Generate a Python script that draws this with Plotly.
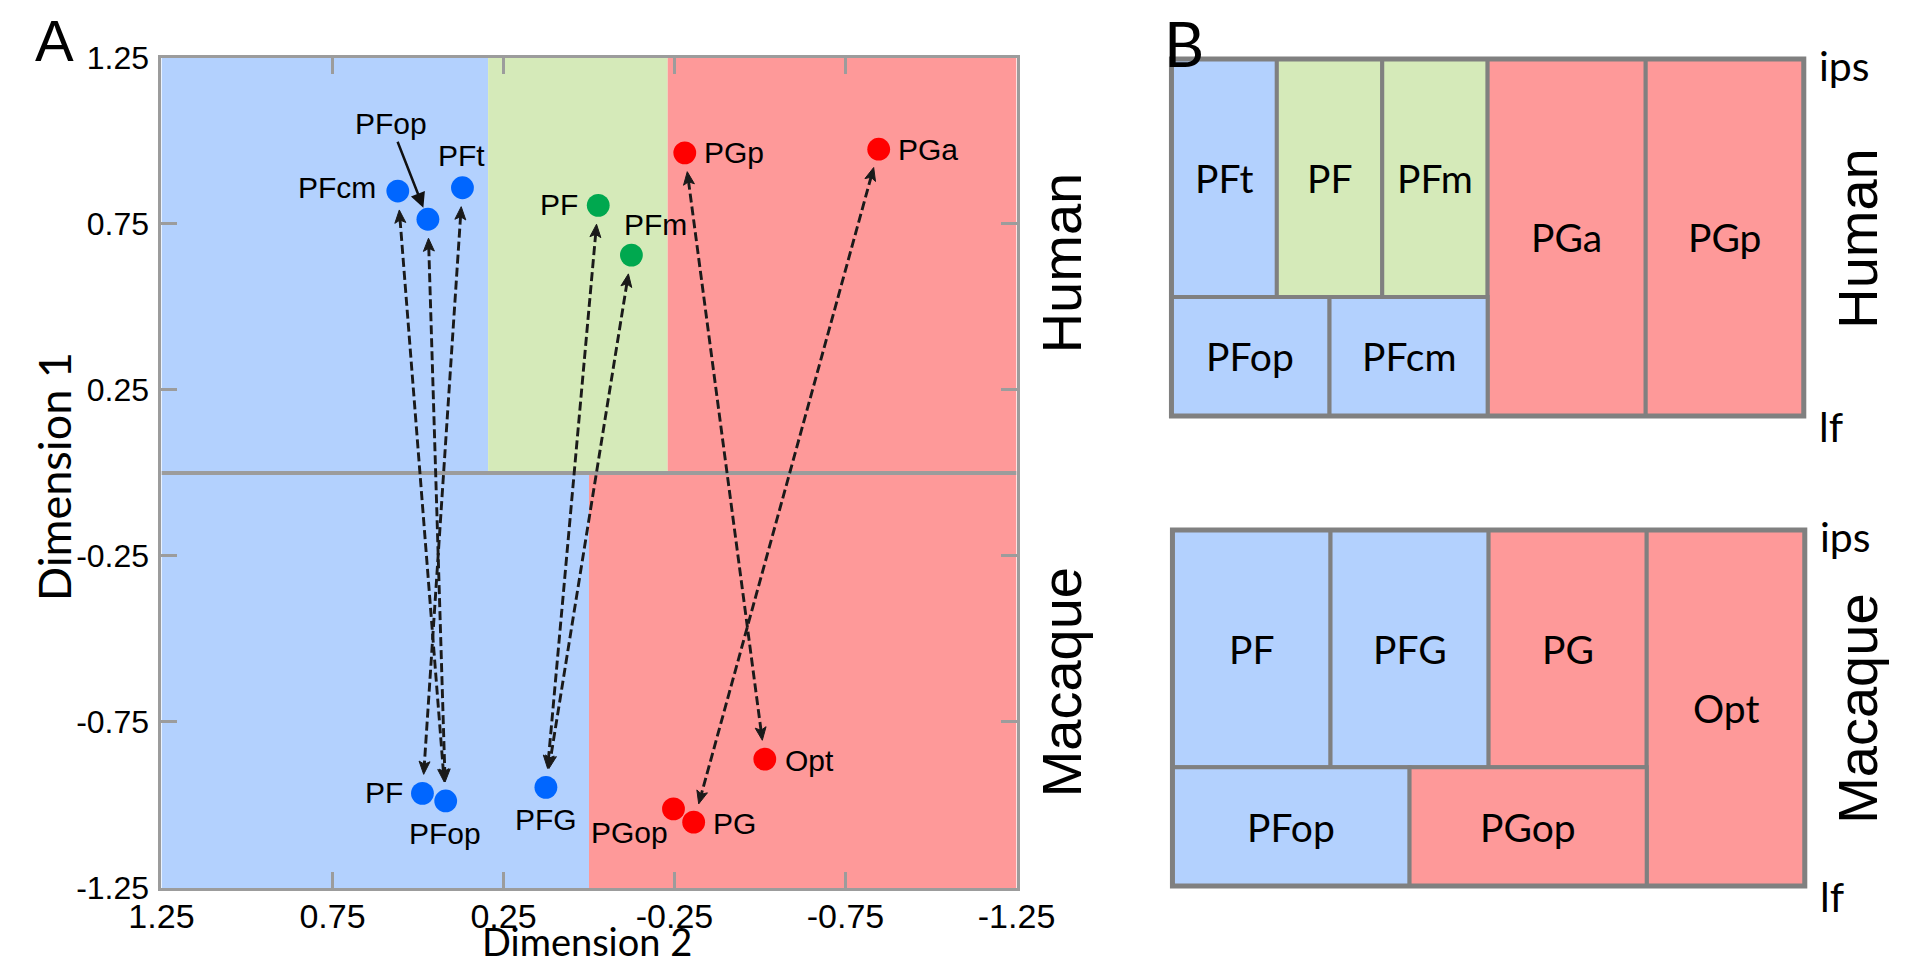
import numpy as np
import plotly.graph_objects as go

# ---------------------------------------------------------------- data (panel A)
human_names = ["PFcm", "PFop", "PFt", "PF", "PFm", "PGp", "PGa"]
human_dim2 = [0.559, 0.471, 0.370, -0.027, -0.124, -0.280, -0.847]
human_dim1 = [0.849, 0.764, 0.859, 0.806, 0.656, 0.964, 0.975]
human_group = ["blue", "blue", "blue", "green", "green", "red", "red"]

macaque_names = ["PF", "PFop", "PFG", "PGop", "PG", "Opt"]
macaque_dim2 = [0.487, 0.419, 0.126, -0.247, -0.306, -0.514]
macaque_dim1 = [-0.965, -0.988, -0.947, -1.012, -1.052, -0.862]
macaque_group = ["blue", "blue", "blue", "red", "red", "red"]

# correspondences human <-> macaque
link_human = ["PFcm", "PFop", "PFt", "PF", "PFm", "PGp", "PGa"]
link_macaque = ["PFop", "PFop", "PF", "PFG", "PFG", "Opt", "PG"]

# background bands along Dimension 2
human_band_edges = [1.25, 0.295, -0.23, -1.25]
human_band_group = ["blue", "green", "red"]
macaque_band_edges = [1.25, 0.0, -1.25]
macaque_band_group = ["blue", "red"]

tick_vals = [1.25, 0.75, 0.25, -0.25, -0.75, -1.25]
tick_text = ["1.25", "0.75", "0.25", "-0.25", "-0.75", "-1.25"]

# ---------------------------------------------------------------- data (panel B)
hb_names = ["PFt", "PF", "PFm", "PGa", "PGp", "PFop", "PFcm"]
hb_col0 = [0, 2, 4, 6, 9, 0, 3]
hb_col1 = [2, 4, 6, 9, 12, 3, 6]
hb_row0 = [1, 1, 1, 0, 0, 0, 0]
hb_row1 = [3, 3, 3, 3, 3, 1, 1]
hb_group = ["blue", "green", "green", "red", "red", "blue", "blue"]

mb_names = ["PF", "PFG", "PG", "Opt", "PFop", "PGop"]
mb_col0 = [0, 3, 6, 9, 0, 4.5]
mb_col1 = [3, 6, 9, 12, 4.5, 9]
mb_row0 = [1, 1, 1, 0, 0, 0]
mb_row1 = [3, 3, 3, 3, 1, 1]
mb_group = ["blue", "blue", "red", "red", "blue", "red"]

# ---------------------------------------------------------------- styles / layout
FIG_W, FIG_H = 1920, 974
ARIAL = "Liberation Sans, Arial, sans-serif"
CALI = "Lato, Carlito, Calibri, sans-serif"
BG = {"blue": "#b3d1fe", "green": "#d5eab9", "red": "#fe9999"}
DOT = {"blue": "#0066ff", "green": "#00a84f", "red": "#ff0000"}
AX_GREY = "#9c9c9c"
BOX_GREY = "#808080"

# the photographed page appears slightly reduced; map target picture pixels -> page pixels
KX, OX, KY, OY = 0.965, 30.6, 0.963, 17.1
SC = 1 / 0.964


def px(sx):
    return (sx - OX) / KX


def py(sy):
    return (sy - OY) / KY


A_X0, A_X1, A_Y0, A_Y1 = px(159.4), px(1016.7), py(57.0), py(887.0)
HB = (px(1172.0), px(1806.0), py(58.0), py(415.0))
MB = (px(1173.0), px(1807.0), py(529.0), py(885.0))
PAD_C, PAD_R = 0.1, 0.05


def dom_x(a, b):
    return [a / FIG_W, b / FIG_W]


def dom_y(top, bottom):
    return [1 - bottom / FIG_H, 1 - top / FIG_H]


def padded_domains(box, ncol=12, nrow=3):
    x0, x1, y0, y1 = box
    cx = (x1 - x0) / ncol
    cy = (y1 - y0) / nrow
    return (dom_x(x0 - PAD_C * cx, x1 + PAD_C * cx),
            dom_y(y0 - PAD_R * cy, y1 + PAD_R * cy))


def paper(x_page, y_page):
    return x_page / FIG_W, 1 - y_page / FIG_H


fig = go.Figure()

# ---------------------------------------------------------------- panel A backgrounds
shapes = []
for i, g in enumerate(human_band_group):
    shapes.append(dict(type="rect", xref="x", yref="y", layer="below",
                       x0=human_band_edges[i], x1=human_band_edges[i + 1], y0=0, y1=1.25,
                       fillcolor=BG[g], line=dict(width=0)))
for i, g in enumerate(macaque_band_group):
    shapes.append(dict(type="rect", xref="x", yref="y", layer="below",
                       x0=macaque_band_edges[i], x1=macaque_band_edges[i + 1], y0=-1.25, y1=0,
                       fillcolor=BG[g], line=dict(width=0)))
shapes.append(dict(type="line", xref="x", yref="y", layer="below",
                   x0=1.25, x1=-1.25, y0=0, y1=0, line=dict(color=AX_GREY, width=4)))

# ---------------------------------------------------------------- dashed correspondence arrows
kx = (A_X1 - A_X0) / 2.5
ky = (A_Y1 - A_Y0) / 2.5


def to_px(x, y):
    return np.array([(1.25 - x) * kx, (1.25 - y) * ky])


def to_data(p):
    return 1.25 - p[0] / kx, 1.25 - p[1] / ky


hpos = {n: (x, y) for n, x, y in zip(human_names, human_dim2, human_dim1)}
mpos = {n: (x, y) for n, x, y in zip(macaque_names, macaque_dim2, macaque_dim1)}

GAP, HEAD_L, HEAD_W = 19.0 * SC, 13.0 * SC, 11.0 * SC
lx, ly, ax_, ay_ = [], [], [], []
for hn, mn in zip(link_human, link_macaque):
    h = to_px(*hpos[hn])
    m = to_px(*mpos[mn])
    u = (m - h) / np.linalg.norm(m - h)
    th = h + u * GAP
    tm = m - u * GAP
    a = th + u * HEAD_L * 0.7
    b = tm - u * HEAD_L * 0.7
    for p in (a, b):
        dx, dy = to_data(p)
        lx.append(dx)
        ly.append(dy)
    lx.append(None)
    ly.append(None)
    for tip, d in ((th, -u), (tm, u)):
        nrm = np.array([-d[1], d[0]])
        pts = [tip,
               tip - d * HEAD_L + nrm * HEAD_W / 2,
               tip - d * HEAD_L * 0.78,
               tip - d * HEAD_L - nrm * HEAD_W / 2,
               tip]
        for p in pts:
            dx, dy = to_data(p)
            ax_.append(dx)
            ay_.append(dy)
        ax_.append(None)
        ay_.append(None)

fig.add_trace(go.Scatter(x=lx, y=ly, mode="lines", xaxis="x", yaxis="y",
                         line=dict(color="#1a1a1a", width=2.9, dash="9px,4px"),
                         hoverinfo="skip", showlegend=False))
fig.add_trace(go.Scatter(x=ax_, y=ay_, mode="lines", fill="toself", fillcolor="#1a1a1a",
                         line=dict(color="#1a1a1a", width=1), xaxis="x", yaxis="y",
                         hoverinfo="skip", showlegend=False))

# ---------------------------------------------------------------- points
MS = 22 * SC
fig.add_trace(go.Scatter(x=human_dim2, y=human_dim1, mode="markers", text=human_names,
                         marker=dict(size=MS, color=[DOT[g] for g in human_group], line=dict(width=0)),
                         showlegend=False, xaxis="x", yaxis="y"))
fig.add_trace(go.Scatter(x=macaque_dim2, y=macaque_dim1, mode="markers", text=macaque_names,
                         marker=dict(size=MS, color=[DOT[g] for g in macaque_group], line=dict(width=0)),
                         showlegend=False, xaxis="x", yaxis="y"))

# ---------------------------------------------------------------- point labels
LBL = 30
human_lbl = {"PFcm": ("right", -19, 3), "PFt": ("center", -1, 31), "PF": ("right", -18, 1),
             "PFm": ("left", -9, 30), "PGp": ("left", 17, 0), "PGa": ("left", 17, 0)}
mac_lbl = {"PF": ("right", -17, 1), "PFop": ("center", -1, -31), "PFG": ("center", 0, -31),
           "PGop": ("right", -3, -23), "PG": ("left", 17, -1), "Opt": ("left", 18, -1)}

annotations = []
for n, x, y in zip(human_names, human_dim2, human_dim1):
    if n in human_lbl:
        xa, xs, ys = human_lbl[n]
        annotations.append(dict(x=x, y=y, xref="x", yref="y", text=n, showarrow=False,
                                xanchor=xa, yanchor="middle", xshift=xs * SC, yshift=ys * SC,
                                font=dict(family=ARIAL, size=LBL, color="black")))
    else:  # callout with solid arrow
        annotations.append(dict(x=x, y=y, xref="x", yref="y", text=n, showarrow=True,
                                ax=-36 * SC, ay=-92 * SC, arrowhead=2, arrowsize=1.2,
                                arrowwidth=2.5, arrowcolor="#111111", standoff=12 * SC,
                                font=dict(family=ARIAL, size=LBL, color="black")))
for n, x, y in zip(macaque_names, macaque_dim2, macaque_dim1):
    xa, xs, ys = mac_lbl[n]
    annotations.append(dict(x=x, y=y, xref="x", yref="y", text=n, showarrow=False,
                            xanchor=xa, yanchor="middle", xshift=xs * SC, yshift=ys * SC,
                            font=dict(family=ARIAL, size=LBL, color="black")))

# ---------------------------------------------------------------- panel B
for names, c0, c1, r0, r1, grp, xa, ya in (
        (hb_names, hb_col0, hb_col1, hb_row0, hb_row1, hb_group, "x2", "y2"),
        (mb_names, mb_col0, mb_col1, mb_row0, mb_row1, mb_group, "x3", "y3")):
    for n, a, b, c, d, g in zip(names, c0, c1, r0, r1, grp):
        shapes.append(dict(type="rect", xref=xa, yref=ya, x0=a, x1=b, y0=c, y1=d,
                           fillcolor=BG[g], line=dict(color=BOX_GREY, width=4)))
        annotations.append(dict(x=(a + b) / 2, y=(c + d) / 2, xref=xa, yref=ya, text=n,
                                showarrow=False, font=dict(family=CALI, size=39, color="black")))
    shapes.append(dict(type="rect", xref=xa, yref=ya, x0=0, x1=12, y0=0, y1=3,
                       fillcolor="rgba(0,0,0,0)", line=dict(color=BOX_GREY, width=5)))
    annotations.append(dict(x=12, y=3, xref=xa, yref=ya, text="ips", showarrow=False,
                            xanchor="left", yanchor="middle", xshift=13, yshift=-7,
                            font=dict(family=CALI, size=41, color="black")))
    annotations.append(dict(x=12, y=0, xref=xa, yref=ya, text="lf", showarrow=False,
                            xanchor="left", yanchor="middle", xshift=13, yshift=-11,
                            font=dict(family=CALI, size=41, color="black")))

# side labels
for text, xpg, ypg in (("Human", px(1061.7), py(262)), ("Macaque", px(1061.7), py(681)),
                       ("Human", 1896, py(237)), ("Macaque", 1896, py(708))):
    xp, yp = paper(xpg, ypg)
    annotations.append(dict(x=xp, y=yp, xref="paper", yref="paper", text=text, showarrow=False,
                            textangle=-90, xanchor="center", yanchor="middle",
                            font=dict(family=ARIAL, size=56, color="black")))

# axis titles and panel letters
xp, yp = paper(22, py(476))
annotations.append(dict(x=xp, y=yp, xref="paper", yref="paper", text="Dimension 1",
                        showarrow=False, textangle=-90, xanchor="center", yanchor="middle",
                        font=dict(family=CALI, size=45, color="black")))
xp, yp = paper(px(586), 958)
annotations.append(dict(x=xp, y=yp, xref="paper", yref="paper", text="Dimension 2",
                        showarrow=False, xanchor="center", yanchor="middle",
                        font=dict(family=CALI, size=38, color="black")))
annotations.append(dict(x=0, y=1, xref="paper", yref="paper", text="A", showarrow=False,
                        xanchor="left", yanchor="top", yshift=12,
                        font=dict(family=ARIAL, size=58, color="black")))
xp, _ = paper(px(1163), 0)
annotations.append(dict(x=xp, y=1, xref="paper", yref="paper", text="B", showarrow=False,
                        xanchor="left", yanchor="top", yshift=14,
                        font=dict(family=CALI, size=62, color="black")))

# ---------------------------------------------------------------- axes
axis_common = dict(showgrid=False, zeroline=False, showline=True, linecolor=AX_GREY,
                   linewidth=3, mirror="allticks", ticks="inside", ticklen=16,
                   tickwidth=3, tickcolor=AX_GREY, tickmode="array",
                   tickvals=tick_vals, ticktext=tick_text, fixedrange=True)

hx_dom, hy_dom = padded_domains(HB)
mx_dom, my_dom = padded_domains(MB)
hidden = dict(visible=False, fixedrange=True, showgrid=False, zeroline=False)

fig.update_layout(
    width=FIG_W, height=FIG_H, margin=dict(l=0, r=0, t=0, b=0),
    paper_bgcolor="white", plot_bgcolor="white", showlegend=False,
    xaxis=dict(domain=dom_x(A_X0, A_X1), range=[1.25, -1.25], anchor="y",
               ticklabelstandoff=-4, tickfont=dict(family=ARIAL, size=34, color="black"),
               **axis_common),
    yaxis=dict(domain=dom_y(A_Y0, A_Y1), range=[-1.25, 1.25], anchor="x",
               ticklabelstandoff=3, tickfont=dict(family=ARIAL, size=32, color="black"),
               **axis_common),
    xaxis2=dict(domain=hx_dom, range=[-PAD_C, 12 + PAD_C], anchor="y2", **hidden),
    yaxis2=dict(domain=hy_dom, range=[-PAD_R, 3 + PAD_R], anchor="x2", **hidden),
    xaxis3=dict(domain=mx_dom, range=[-PAD_C, 12 + PAD_C], anchor="y3", **hidden),
    yaxis3=dict(domain=my_dom, range=[-PAD_R, 3 + PAD_R], anchor="x3", **hidden),
    shapes=shapes, annotations=annotations,
)

fig.write_html("out.html", config={"displayModeBar": False},
               post_script="document.body.style.margin='0';document.body.style.overflow='hidden';")
